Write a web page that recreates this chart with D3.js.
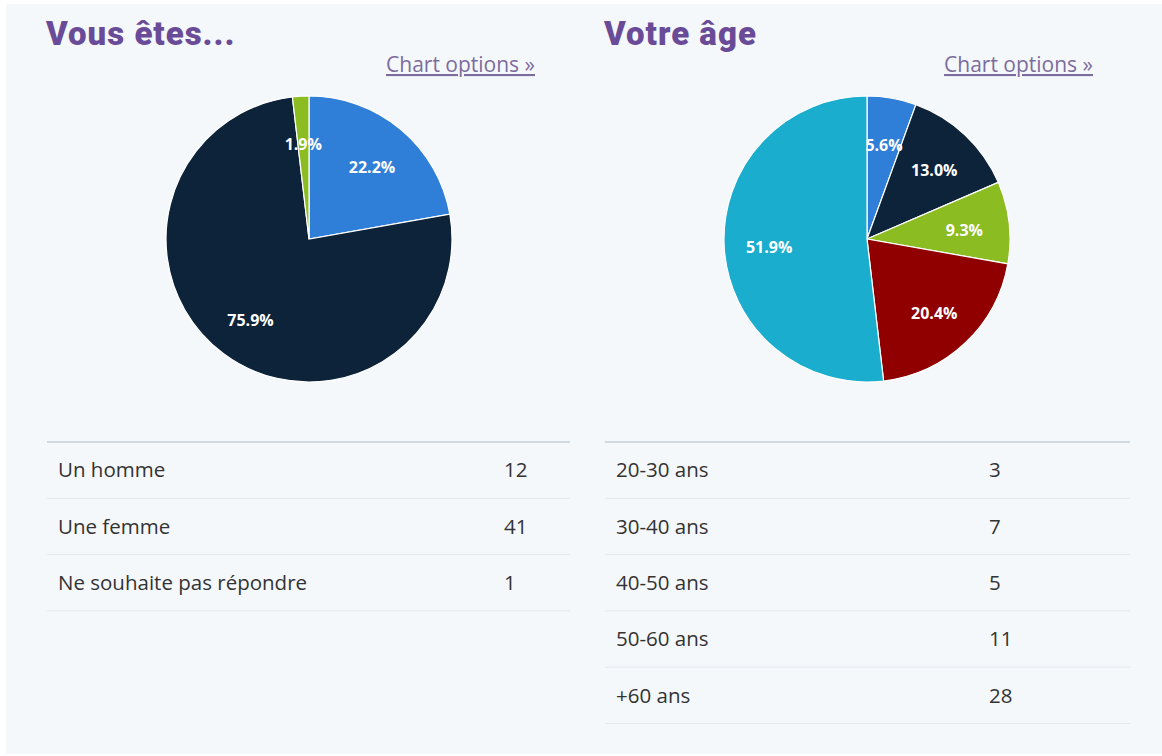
<!DOCTYPE html>
<html>
<head>
<meta charset="utf-8">
<script src="https://cdn.jsdelivr.net/npm/d3@7"></script>
<style>
  body { margin: 0; background: #fff; }
  svg { display: block; }
</style>
</head>
<body>
<svg id="page"></svg>
<script>
// Data
const genderLabels = ["Un homme", "Une femme", "Ne souhaite pas répondre"];
const genderCounts = [12, 41, 1];
const ageLabels = ["20-30 ans", "30-40 ans", "40-50 ans", "50-60 ans", "+60 ans"];
const ageCounts = [3, 7, 5, 11, 28];
const palette = ["#2f7ed8", "#0d233a", "#8bbc21", "#910000", "#1aadce"];

const svg = d3.select("#page")
    .attr("width", 1162)
    .attr("height", 756);

// panel background
svg.append("rect")
    .attr("x", 6).attr("y", 4)
    .attr("width", 1156).attr("height", 750)
    .attr("fill", "#f5f8fb");

const panels = [
    { title: "Vous êtes...", labels: genderLabels, counts: genderCounts, x0: 47, x1: 570, cx: 309, valX: 504 },
    { title: "Votre âge", labels: ageLabels, counts: ageCounts, x0: 605, x1: 1130, cx: 867, valX: 989 }
];

const radius = 143;
const cy = 239;
const rowH = 56.3;
const tableTop = 442;

panels.forEach(p => {
    const g = svg.append("g");

    // title
    g.append("text")
        .attr("x", p.x0 - 1)
        .attr("y", 45)
        .attr("font-family", "Roboto")
        .attr("font-weight", 900)
        .attr("font-size", 33)
        .attr("letter-spacing", 1)
        .attr("fill", "#6a4b97")
        .text(p.title);

    // "Chart options" link
    g.append("text")
        .attr("x", p.x0 + 488)
        .attr("y", 72)
        .attr("text-anchor", "end")
        .attr("font-family", "Open Sans")
        .attr("font-size", 21)
        .attr("fill", "#7c6c9e")
        .attr("text-decoration", "underline")
        .text("Chart options »");

    // pie
    const total = d3.sum(p.counts);
    const pie = d3.pie().sort(null).value(d => d)(p.counts);
    const arc = d3.arc().innerRadius(0).outerRadius(radius);
    const labelArc = d3.arc().innerRadius(98).outerRadius(98);

    const pg = g.append("g").attr("transform", `translate(${p.cx},${cy})`);
    pg.selectAll("path")
        .data(pie)
        .join("path")
        .attr("d", arc)
        .attr("fill", (d, i) => palette[i])
        .attr("stroke", "#ffffff")
        .attr("stroke-width", 1.2);

    pg.selectAll("text")
        .data(pie)
        .join("text")
        .attr("transform", d => {
            const [lx, ly] = labelArc.centroid(d);
            return `translate(${lx},${ly + 3})`;
        })
        .attr("text-anchor", "middle")
        .attr("dy", "0.35em")
        .attr("font-family", "Open Sans")
        .attr("font-weight", "bold")
        .attr("font-size", 16)
        .attr("fill", "#ffffff")
        .text(d => (d.value / total * 100).toFixed(1) + "%");

    // table
    const y = d3.scaleBand()
        .domain(p.labels)
        .range([tableTop, tableTop + rowH * p.labels.length]);

    g.append("line")
        .attr("x1", p.x0).attr("x2", p.x1)
        .attr("y1", tableTop).attr("y2", tableTop)
        .attr("stroke", "#d3d9e0")
        .attr("stroke-width", 2);

    const rows = g.selectAll("g.row")
        .data(p.labels.map((l, i) => ({ label: l, count: p.counts[i] })))
        .join("g")
        .attr("class", "row")
        .attr("transform", d => `translate(0,${y(d.label)})`);

    rows.append("line")
        .attr("x1", p.x0).attr("x2", p.x1)
        .attr("y1", rowH).attr("y2", rowH)
        .attr("stroke", "#e4e8ed")
        .attr("stroke-width", 1);

    rows.append("text")
        .attr("x", p.x0 + 11)
        .attr("y", rowH / 2)
        .attr("dy", "0.35em")
        .attr("font-family", "Open Sans")
        .attr("font-size", 20.5)
        .attr("fill", "#333")
        .text(d => d.label);

    rows.append("text")
        .attr("x", p.valX)
        .attr("y", rowH / 2)
        .attr("dy", "0.35em")
        .attr("font-family", "Open Sans")
        .attr("font-size", 20.5)
        .attr("fill", "#333")
        .text(d => d.count);
});
</script>
</body>
</html>
